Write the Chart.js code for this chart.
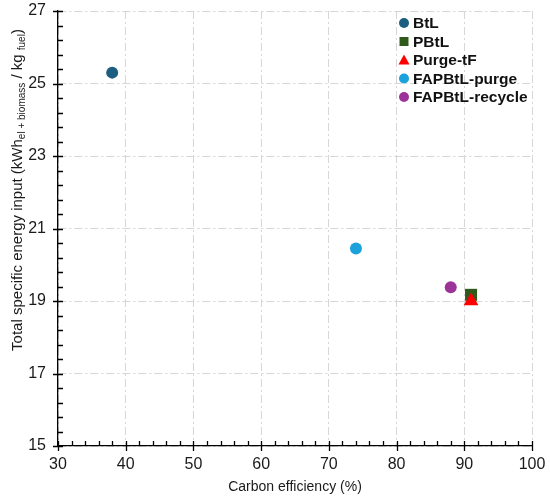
<!DOCTYPE html>
<html>
<head>
<meta charset="utf-8">
<script src="https://cdn.jsdelivr.net/npm/chart.js@4/dist/chart.umd.min.js"></script>
<style>
  html, body { margin: 0; padding: 0; background: #fff; }
  #wrap { width: 550px; height: 500px; }
</style>
</head>
<body>
<div id="wrap"><canvas id="chart" width="550" height="500"></canvas></div>
<script>
// series (carbon efficiency %, total specific energy input)
var seriesNames = ['BtL', 'PBtL', 'Purge-tF', 'FAPBtL-purge', 'FAPBtL-recycle'];
var carbonEff = [38, 91, 91, 74, 88];
var energyInput = [25.3, 19.17, 19.0, 20.45, 19.38];
var seriesColors = ['#1b5e80', '#2f5a1c', '#ff0000', '#1ba1db', '#9c3399'];
var seriesShapes = ['circle', 'rect', 'triangle', 'circle', 'circle'];

// axis ranges
var xMin = 30, xMax = 100, xStep = 10, xMinor = 2;
var yMin = 15, yMax = 27, yStep = 2, yMinor = 0.4;

var FONT = "'Liberation Sans', Arial, sans-serif";

var datasets = seriesNames.map(function (name, i) {
  var r = seriesShapes[i] == 'circle' ? 6 : 8.5;
  return {
    label: name,
    data: [{ x: carbonEff[i], y: energyInput[i] }],
    backgroundColor: seriesColors[i],
    borderWidth: 0,
    pointStyle: seriesShapes[i],
    pointRadius: r,
    pointHoverRadius: r,
    order: name == 'Purge-tF' ? 0 : 1
  };
});

// tick marks: major cross the axis, minor only inside
var tickMarks = {
  id: 'tickMarks',
  afterDraw: function (chart) {
    var ctx = chart.ctx, xs = chart.scales.x, ys = chart.scales.y;
    var a = chart.chartArea;
    ctx.save();
    ctx.strokeStyle = '#000';
    ctx.lineWidth = 1.3;
    ctx.beginPath();
    for (var v = xMin; v <= xMax + 1e-6; v += xMinor) {
      var px = Math.round(xs.getPixelForValue(v)) + 0.5;
      var major = Math.abs(v / xStep - Math.round(v / xStep)) < 1e-6;
      ctx.moveTo(px, a.bottom - 5);
      ctx.lineTo(px, a.bottom + (major ? 5 : 0));
    }
    for (var w = yMin; w <= yMax + 1e-6; w += yMinor) {
      var py = Math.round(ys.getPixelForValue(w)) + 0.5;
      var maj = Math.abs((w - yMin) / yStep - Math.round((w - yMin) / yStep)) < 1e-6;
      ctx.moveTo(a.left - (maj ? 5 : 0), py);
      ctx.lineTo(a.left + 5, py);
    }
    ctx.stroke();
    ctx.restore();
  }
};

// y title with subscripts
var yTitle = {
  id: 'yTitle',
  afterDraw: function (chart) {
    var ctx = chart.ctx;
    var parts = [
      ['Total specific energy input (kWh', false],
      ['el + biomass', true],
      [' / kg ', false],
      ['fuel', true],
      [')', false]
    ];
    var big = '15px ' + FONT, small = '10px ' + FONT;
    ctx.save();
    var total = 0;
    parts.forEach(function (p) { ctx.font = p[1] ? small : big; total += ctx.measureText(p[0]).width; });
    ctx.translate(22, 190);
    ctx.rotate(-Math.PI / 2);
    ctx.fillStyle = '#1a1a1a';
    ctx.textBaseline = 'alphabetic';
    var x = -total / 2;
    parts.forEach(function (p) {
      ctx.font = p[1] ? small : big;
      ctx.fillText(p[0], x, p[1] ? 3 : 0);
      x += ctx.measureText(p[0]).width;
    });
    ctx.restore();
  }
};

// legend inside the plot, top right
var innerLegend = {
  id: 'innerLegend',
  afterDraw: function (chart) {
    var ctx = chart.ctx;
    ctx.save();
    ctx.font = 'bold 15.5px ' + FONT;
    ctx.textBaseline = 'middle';
    chart.data.datasets.forEach(function (ds, i) {
      var y = 23 + i * 18.5, x = 404;
      ctx.fillStyle = ds.backgroundColor;
      ctx.beginPath();
      if (ds.pointStyle == 'circle') {
        ctx.arc(x, y, 5, 0, Math.PI * 2);
      } else if (ds.pointStyle == 'rect') {
        ctx.rect(x - 4.5, y - 4.5, 9, 9);
      } else {
        ctx.moveTo(x, y - 5.5);
        ctx.lineTo(x + 5.5, y + 4.5);
        ctx.lineTo(x - 5.5, y + 4.5);
        ctx.closePath();
      }
      ctx.fill();
      ctx.fillStyle = '#111';
      ctx.fillText(ds.label, x + 9, y + 1);
    });
    ctx.restore();
  }
};

var gridOpts = { color: '#d6d6d6', lineWidth: 1, drawTicks: false };

new Chart(document.getElementById('chart'), {
  type: 'scatter',
  data: { datasets: datasets },
  options: {
    responsive: false,
    animation: false,
    layout: { padding: { top: 11, right: 18, left: 0, bottom: 0 } },
    plugins: { legend: { display: false }, tooltip: { enabled: false } },
    scales: {
      x: {
        type: 'linear',
        min: xMin, max: xMax,
        grid: gridOpts,
        border: { color: '#000', width: 1.3, dash: [8, 3, 2, 3] },
        ticks: { stepSize: xStep, padding: 9, color: '#1a1a1a', font: { family: FONT, size: 16 } },
        title: { display: true, text: 'Carbon efficiency (%)', color: '#1a1a1a', font: { family: FONT, size: 14 }, padding: { top: 2 } },
        afterFit: function (s) { s.height = 54; s.paddingLeft = 0; s.paddingRight = 0; }
      },
      y: {
        type: 'linear',
        min: yMin, max: yMax,
        grid: gridOpts,
        border: { color: '#000', width: 1.3, dash: [8, 3, 2, 3] },
        ticks: { stepSize: yStep, padding: 12, color: '#1a1a1a', font: { family: FONT, size: 16 } },
        afterFit: function (s) { s.width = 58; s.paddingTop = 0; s.paddingBottom = 0; }
      }
    }
  },
  plugins: [tickMarks, yTitle, innerLegend]
});
</script>
</body>
</html>
